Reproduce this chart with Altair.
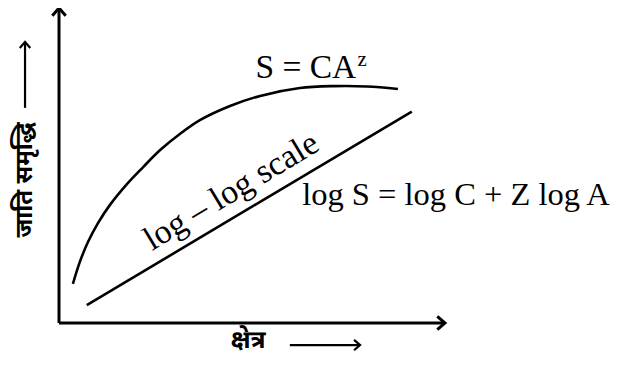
import altair as alt
import pandas as pd

# Curve S = CA^z (area, species richness) in data units
curve_x = [3.6, 5.4, 7.5, 10.1, 13.2, 17.6, 21.8, 26.2, 31.3, 36.5, 44.3, 52.1, 62.4, 71.0, 79.8, 87.8]
curve_y = [12.4, 19.4, 25.7, 31.7, 37.5, 44.1, 49.5, 54.9, 60.0, 64.4, 68.9, 72.1, 74.6, 75.2, 75.1, 74.3]

# log-log straight line
line_x = [7.2, 91.4]
line_y = [5.7, 67.1]

# Axes (origin to tips)
axis_names = ["y", "x"]
axis_x = [0, 0]
axis_x2 = [0, 100]
axis_y = [0, 0]
axis_y2 = [100, 0]

# Label arrows
label_arrow_names = ["y", "x"]
label_arrow_x = [-8.8, 59.8]
label_arrow_x2 = [-8.8, 78.0]
label_arrow_y = [68.3, -7.0]
label_arrow_y2 = [89.2, -7.0]

# Texts
eq_text = ["S = CA", "log S = log C + Z log A"]
eq_x = [77.0, 63.0]
eq_y = [77.8, 37.5]
eq_align = ["right", "left"]

sup_text = ["z"]
sup_x = [77.3]
sup_y = [81.6]

rot_text = ["log – log scale"]
rot_x = [46.0]
rot_y = [39.0]

ylabel = ["जाति समृद्धि"]
ylabel_x = [-8.8]
ylabel_y = [45.4]

xlabel = ["क्षेत्र"]
xlabel_x = [49.0]
xlabel_y = [-5.3]

xs = alt.Scale(domain=[0, 100])
ys = alt.Scale(domain=[0, 100])

curve_df = pd.DataFrame({"x": curve_x, "y": curve_y, "o": list(range(len(curve_x)))})
line_df = pd.DataFrame({"x": line_x, "y": line_y})
axis_df = pd.DataFrame({"n": axis_names, "x": axis_x, "x2": axis_x2, "y": axis_y, "y2": axis_y2})
la_df = pd.DataFrame({"n": label_arrow_names, "x": label_arrow_x, "x2": label_arrow_x2,
                      "y": label_arrow_y, "y2": label_arrow_y2})

X = lambda f: alt.X(f, type="quantitative", scale=xs, axis=None)
Y = lambda f: alt.Y(f, type="quantitative", scale=ys, axis=None)

curve = alt.Chart(curve_df).mark_line(color="black", strokeWidth=2.6, interpolate="catmull-rom").encode(
    x=X("x"), y=Y("y"), order="o:Q")
line = alt.Chart(line_df).mark_line(color="black", strokeWidth=2.6).encode(x=X("x"), y=Y("y"))

axes = alt.Chart(axis_df).mark_rule(color="black", strokeWidth=3).encode(
    x=X("x"), x2="x2", y=Y("y"), y2="y2")
up_head = alt.Chart(axis_df[axis_df.n == "y"]).mark_point(
    shape="M -1 1.15 L 0 0 L 1 1.15", filled=False, color="black", strokeWidth=3, size=180, opacity=1
).encode(x=X("x2"), y=Y("y2"))
right_head = alt.Chart(axis_df[axis_df.n == "x"]).mark_point(
    shape="M -1.15 -1 L 0 0 L -1.15 1", filled=False, color="black", strokeWidth=3, size=180, opacity=1
).encode(x=X("x2"), y=Y("y2"))

la = alt.Chart(la_df).mark_rule(color="black", strokeWidth=2.2).encode(
    x=X("x"), x2="x2", y=Y("y"), y2="y2")
la_up = alt.Chart(la_df[la_df.n == "y"]).mark_point(
    shape="M -1 1.15 L 0 0 L 1 1.15", filled=False, color="black", strokeWidth=2.2, size=110, opacity=1
).encode(x=X("x2"), y=Y("y2"))
la_right = alt.Chart(la_df[la_df.n == "x"]).mark_point(
    shape="M -1.15 -1 L 0 0 L -1.15 1", filled=False, color="black", strokeWidth=2.2, size=110, opacity=1
).encode(x=X("x2"), y=Y("y2"))

serif = "Liberation Serif"
eq_df = pd.DataFrame({"t": eq_text, "x": eq_x, "y": eq_y, "a": eq_align})
eq_r = alt.Chart(eq_df[eq_df.a == "right"]).mark_text(
    font=serif, fontSize=33.5, align="right", baseline="alphabetic", color="black").encode(
    x=X("x"), y=Y("y"), text="t:N")
eq_l = alt.Chart(eq_df[eq_df.a == "left"]).mark_text(
    font=serif, fontSize=32.5, align="left", baseline="alphabetic", color="black").encode(
    x=X("x"), y=Y("y"), text="t:N")
sup = alt.Chart(pd.DataFrame({"t": sup_text, "x": sup_x, "y": sup_y})).mark_text(
    font=serif, fontSize=21, align="left", baseline="alphabetic", color="black").encode(
    x=X("x"), y=Y("y"), text="t:N")
rot = alt.Chart(pd.DataFrame({"t": rot_text, "x": rot_x, "y": rot_y})).mark_text(
    font=serif, fontSize=34, align="center", baseline="alphabetic", angle=329, color="black").encode(
    x=X("x"), y=Y("y"), text="t:N")

deva = "Noto Sans Devanagari, Noto Sans, sans-serif"
yl = alt.Chart(pd.DataFrame({"t": ylabel, "x": ylabel_x, "y": ylabel_y})).mark_text(
    font=deva, fontSize=24, fontWeight="bold", align="center", baseline="middle", angle=270,
    color="black").encode(x=X("x"), y=Y("y"), text="t:N")
xl = alt.Chart(pd.DataFrame({"t": xlabel, "x": xlabel_x, "y": xlabel_y})).mark_text(
    font=deva, fontSize=25, fontWeight="bold", align="center", baseline="middle",
    color="black").encode(x=X("x"), y=Y("y"), text="t:N")

chart = alt.layer(
    axes, up_head, right_head, la, la_up, la_right, curve, line, eq_r, eq_l, sup, rot, yl, xl
).properties(
    width=386, height=315,
    autosize=alt.AutoSizeParams(type="none"),
    padding={"left": 51, "top": 0, "right": 169, "bottom": 34},
    background="white",
).configure_view(stroke=None)

chart.save("out.html", embed_options={"renderer": "svg", "actions": False})
